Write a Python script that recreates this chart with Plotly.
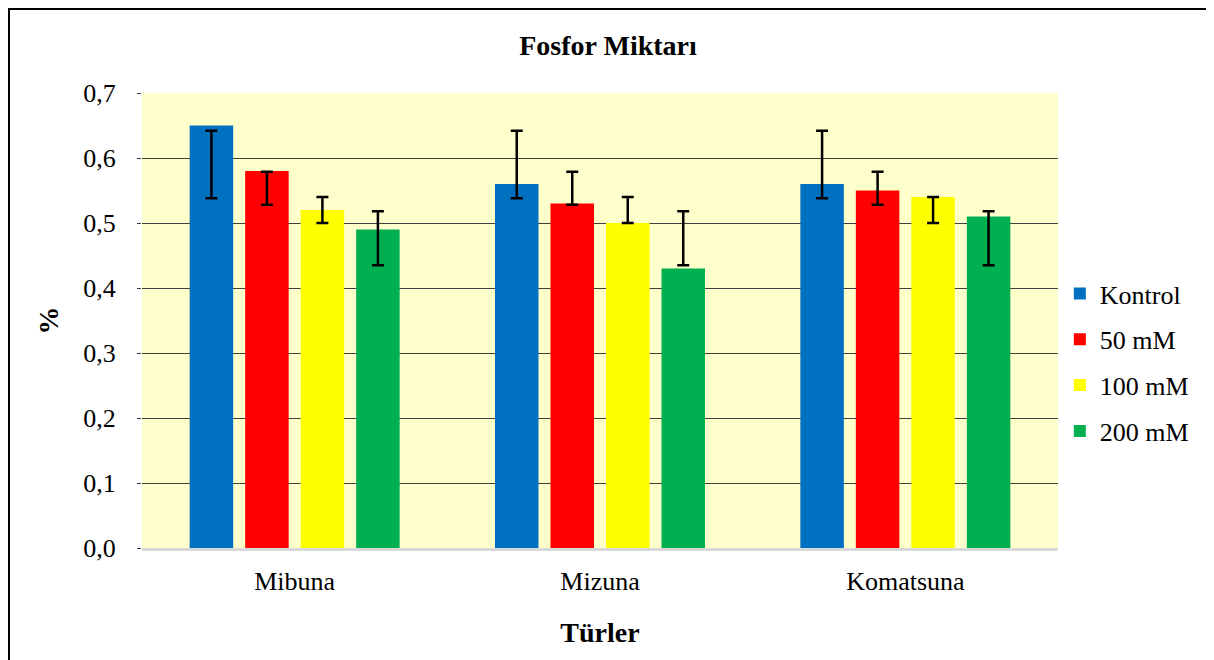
import plotly.graph_objects as go

species = ["Mibuna", "Mizuna", "Komatsuna"]
series_names = ["Kontrol", "50 mM", "100 mM", "200 mM"]
series_colors = ["#0070C0", "#FF0000", "#FFFF00", "#00B050"]

# bar heights per treatment, one value per species
bar_values = [
    [0.65, 0.56, 0.56],
    [0.58, 0.53, 0.55],
    [0.52, 0.50, 0.54],
    [0.49, 0.43, 0.51],
]

# error bars in the source sit off the bar tops: centre and half-width
err_center = [
    [0.590, 0.590, 0.590],
    [0.5535, 0.5535, 0.5535],
    [0.520, 0.520, 0.520],
    [0.4765, 0.4765, 0.4765],
]
err_half = [
    [0.052, 0.052, 0.052],
    [0.0255, 0.0255, 0.0255],
    [0.020, 0.020, 0.020],
    [0.0415, 0.0415, 0.0415],
]

font_family = "Liberation Serif, Times New Roman, serif"

fig = go.Figure()
for i, name in enumerate(series_names):
    fig.add_trace(go.Bar(
        x=species, y=bar_values[i], name=name,
        marker=dict(color=series_colors[i], line=dict(width=0)),
        offsetgroup=str(i), legendgroup=name,
    ))
for i, name in enumerate(series_names):
    fig.add_trace(go.Bar(
        x=species, y=err_center[i], name=name + " err",
        marker=dict(color="rgba(0,0,0,0)", line=dict(width=0)),
        offsetgroup=str(i), legendgroup=name, showlegend=False, hoverinfo="skip",
        error_y=dict(type="data", array=err_half[i], visible=True,
                     color="black", thickness=2.5, width=6),
    ))

# page body has an 8px margin, so the figure is sized to the visible area
fig.update_layout(
    width=1206, height=652,
    barmode="group", bargap=0.273, bargroupgap=0.216,
    separators=", ",
    paper_bgcolor="white", plot_bgcolor="#FFFFCC",
    font=dict(family=font_family, size=26, color="black"),
    margin=dict(l=134, r=156, t=85, b=112),
    title=dict(text="<b>Fosfor Miktarı</b>", x=0.4975, xanchor="center",
               y=0.943, yanchor="middle", font=dict(size=28)),
    legend=dict(x=1.002, y=0.4075, xanchor="left", yanchor="middle",
                font=dict(size=26), tracegroupgap=9, itemwidth=30,
                bgcolor="rgba(0,0,0,0)"),
    showlegend=True,
)
fig.update_xaxes(
    showline=True, linecolor="#D9D9D9", linewidth=2.5,
    ticks="", showgrid=False, ticklabelstandoff=8,
    title=dict(text="<b>Türler</b>", font=dict(size=28), standoff=28),
)
fig.update_yaxes(
    range=[0, 0.7], dtick=0.1, tickformat=".1f",
    showgrid=True, gridcolor="#404040", gridwidth=1,
    ticks="outside", ticklen=4, tickcolor="#404040",
    ticklabelstandoff=16,
    zeroline=False, showline=False,
    title=dict(text="<b>%</b>", font=dict(size=28), standoff=16),
)
fig.add_shape(type="rect", xref="paper", yref="paper",
              x0=-0.1452, x1=1.1692, y0=-0.3, y1=1.1846,
              line=dict(color="black", width=2), layer="below")
fig.add_shape(type="line", xref="paper", yref="paper",
              x0=1.1692, x1=1.1692, y0=-0.3, y1=1.1846,
              line=dict(color="#C8C8C8", width=2))

fig.write_html("out.html")
